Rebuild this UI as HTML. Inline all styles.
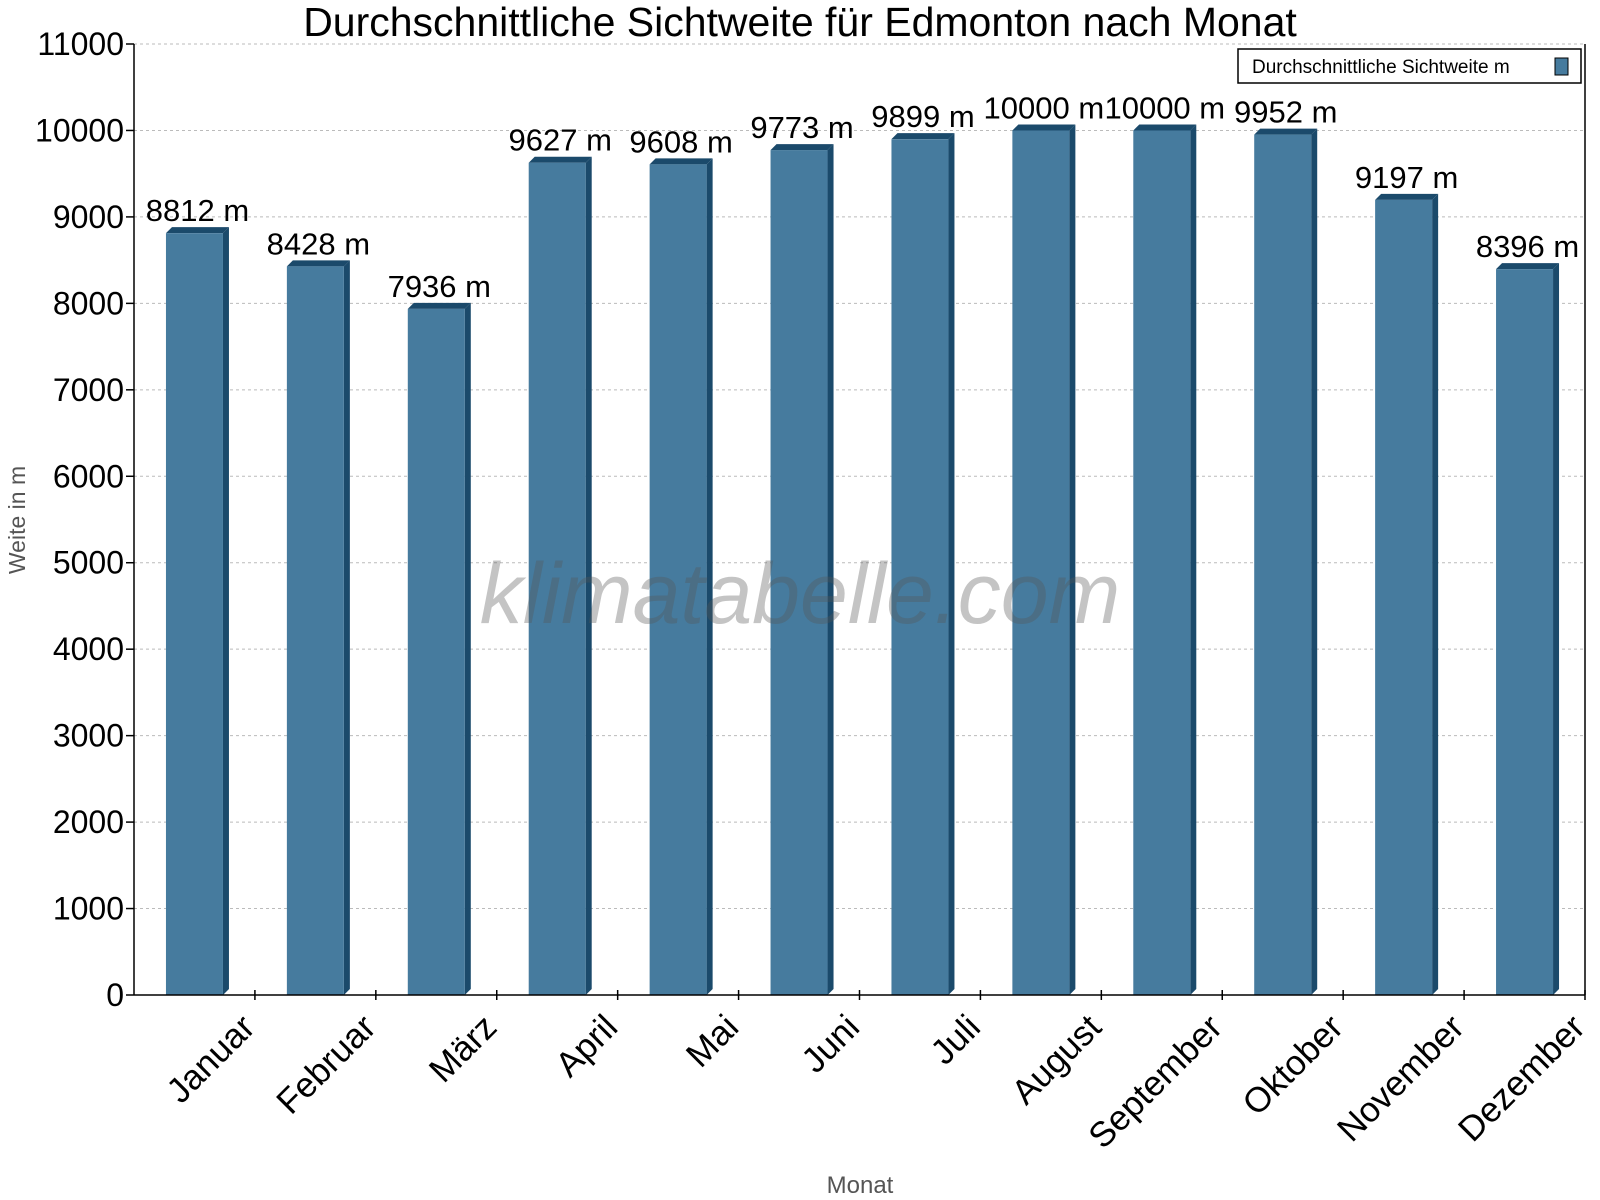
<!DOCTYPE html>
<html><head><meta charset="utf-8"><style>
html,body{margin:0;padding:0;background:#fff;}
svg{display:block;font-family:"Liberation Sans",Arial,sans-serif;}
</style></head><body>
<svg id="chart" width="1600" height="1200" viewBox="0 0 1600 1200">
<text x="800" y="36" text-anchor="middle" font-size="41" fill="#000">Durchschnittliche Sichtweite für Edmonton nach Monat</text>
<g id="grid"></g>
<g id="bars"></g>
<g id="yaxis"></g>
<g id="xaxis"></g>
<text x="800" y="623" text-anchor="middle" font-size="86" font-style="italic" fill="#555" fill-opacity="0.35">klimatabelle.com</text>
<text transform="translate(25,520) rotate(-90)" text-anchor="middle" font-size="23" fill="#555">Weite in m</text>
<text x="860" y="1193" text-anchor="middle" font-size="24" fill="#555">Monat</text>
<g>
<rect x="1238" y="49" width="343" height="34" fill="#fff" stroke="#000" stroke-width="1.5"/>
<text x="1252" y="73" font-size="19" fill="#000">Durchschnittliche Sichtweite m</text>
<rect x="1555" y="58" width="13" height="17" fill="#467b9e" stroke="#000" stroke-width="1"/>
</g>
</svg>
<script>
const categories = ["Januar","Februar","März","April","Mai","Juni","Juli","August","September","Oktober","November","Dezember"];
const values = [8812,8428,7936,9627,9608,9773,9899,10000,10000,9952,9197,8396];
const yTicks = [0,1000,2000,3000,4000,5000,6000,7000,8000,9000,10000,11000];
const valueLabels = ["8812 m","8428 m","7936 m","9627 m","9608 m","9773 m","9899 m","10000 m","10000 m","9952 m","9197 m","8396 m"];

const NS = "http://www.w3.org/2000/svg";
const X0 = 134, X1 = 1585, Y0 = 995, Y1 = 44, YMAX = 11000;
const band = (X1 - X0) / categories.length;
function yScale(v){ return Y0 - (v / YMAX) * (Y0 - Y1); }
function xCenter(i){ return X0 + band * (i + 0.5); }
function mk(tag, attrs, parent){
  const el = document.createElementNS(NS, tag);
  for (const k in attrs) el.setAttribute(k, attrs[k]);
  parent.appendChild(el);
  return el;
}
const grid = document.getElementById('grid');
const yaxis = document.getElementById('yaxis');
const xaxis = document.getElementById('xaxis');
const bars = document.getElementById('bars');

yTicks.forEach(t => {
  const y = yScale(t);
  if (t > 0) {
    const g = mk('line', {x1: X0, x2: X1, y1: y, y2: y, stroke: '#bbb', 'stroke-dasharray': '3,3', 'stroke-width': 1}, grid);
    
    
  }
  const tk = mk('line', {x1: X0 - 8, x2: X0, y1: y, y2: y, stroke: '#000', 'stroke-width': 1.5}, yaxis);
  
  
  const tl = mk('text', {x: X0 - 10, y: y + 11, 'text-anchor': 'end', 'font-size': 32, fill: '#000'}, yaxis);
  tl.textContent = t;
  
  
});
const ya = mk('line', {x1: X0, x2: X0, y1: Y1, y2: Y0, stroke: '#000', 'stroke-width': 1.5}, yaxis);


const yr = mk('line', {x1: X1, x2: X1, y1: Y1, y2: Y0, stroke: '#000', 'stroke-width': 1.5}, yaxis);


const xa = mk('line', {x1: X0, x2: X1, y1: Y0, y2: Y0, stroke: '#000', 'stroke-width': 1.5}, xaxis);



categories.forEach((c, i) => {
  const cx = xCenter(i);
  const bx = X0 + band * (i + 1);
  const tk = mk('line', {x1: bx, x2: bx, y1: Y0 - 5, y2: Y0 + 5, stroke: '#000', 'stroke-width': 1.5}, xaxis);
  
  
  const lx = cx + 45, ly = Y0 + 17;
  const lab = mk('text', {x: lx, y: ly, 'text-anchor': 'end', 'font-size': 35, fill: '#000', transform: `rotate(-45 ${lx} ${ly})`, dy: '0.7em'}, xaxis);
  lab.textContent = c;
  
  

  const top = yScale(values[i]);
  const w = 57, d = 6;
  const left = cx - w / 2;
  const side = mk('polygon', {points: `${left + w},${top} ${left + w + d},${top - d} ${left + w + d},${Y0 - d} ${left + w},${Y0}`, fill: '#1b4a6b'}, bars);
  
  
  const cap = mk('polygon', {points: `${left},${top} ${left + d},${top - d} ${left + w + d},${top - d} ${left + w},${top}`, fill: '#1b4a6b'}, bars);
  
  
  const r = mk('rect', {x: left, y: top, width: w, height: Y0 - top, fill: '#467b9e'}, bars);
  
  
  const vl = mk('text', {x: cx + 3, y: top - 12, 'text-anchor': 'middle', 'font-size': 31, fill: '#000'}, bars);
  vl.textContent = valueLabels[i];
  
  
});
</script>
</body></html>
